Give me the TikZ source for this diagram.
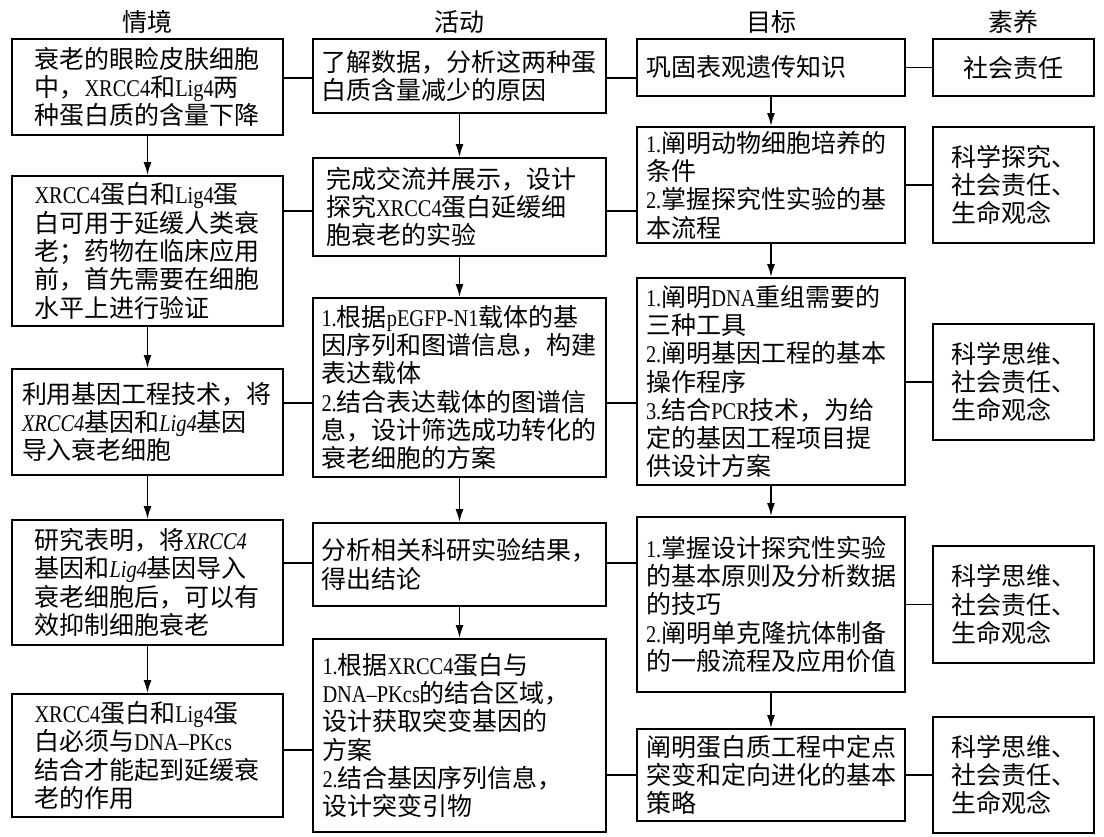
\documentclass[tikz,border=0pt]{standalone}
\usepackage{fontspec}
\setmainfont{Noto Sans CJK SC}
\newfontfamily\latfont[FakeStretch=0.85]{Liberation Serif}
\usetikzlibrary{arrows.meta}
\newcommand{\en}[1]{{\latfont\fontsize{24}{28.3}\selectfont #1}}
\newcommand{\enit}[1]{{\latfont\itshape\fontsize{24}{28.3}\selectfont #1}}

\begin{document}
\begin{tikzpicture}[x=1pt, y=-1pt, line width=1.8pt,
    >={Latex[length=13pt,width=8pt]},
    every node/.style={font=\fontsize{25}{28.3}\selectfont, inner sep=0pt},
    box/.style={draw, line width=1.8pt, align=left},
    qingjing/.style={box, minimum width=271pt, text width=226pt},
    huodong/.style={box, minimum width=293pt, text width=276pt},
    mubiao/.style={box, minimum width=268pt, text width=250pt},
    suyang/.style={box, minimum width=161pt, text width=125pt}]
    \useasboundingbox (0,0) rectangle (1104,837);

    % column heads
    \node (hq) at (147.5,22) {情境};
    \node (hh) at (459.5,22) {活动};
    \node (hm) at (771,22) {目标};
    \node (hs) at (1013.5,22) {素养};

    % situations
    \node[qingjing, minimum height=96pt] (q1) at (147.5,87) {衰老的眼睑皮肤细胞\\中，\en{XRCC4}和\en{Lig4}两\\种蛋白质的含量下降};
    \node[qingjing, minimum height=150pt] (q2) at (147.5,251) {\en{XRCC4}蛋白和\en{Lig4}蛋\\白可用于延缓人类衰\\老；药物在临床应用\\前，首先需要在细胞\\水平上进行验证};
    \node[qingjing, minimum height=106pt, text width=251pt] (q3) at (147.5,422) {利用基因工程技术，将\\\enit{XRCC4}基因和\enit{Lig4}基因\\导入衰老细胞};
    \node[qingjing, minimum height=125pt] (q4) at (147.5,582.5) {研究表明，将\enit{XRCC4}\\基因和\enit{Lig4}基因导入\\衰老细胞后，可以有\\效抑制细胞衰老};
    \node[qingjing, minimum height=123pt] (q5) at (147.5,755.5) {\en{XRCC4}蛋白和\en{Lig4}蛋\\白必须与\en{DNA–PKcs}\\结合才能起到延缓衰\\老的作用};

    % activities
    \node[huodong, minimum height=74pt] (a1) at (459.5,76) {了解数据，分析这两种蛋\\白质含量减少的原因};
    \node[huodong, minimum height=98pt, text width=267pt] (a2) at (459.5,207) {完成交流并展示，设计\\探究\en{XRCC4}蛋白延缓细\\胞衰老的实验};
    \node[huodong, minimum height=179pt] (a3) at (459.5,387.5) {\en{1.}根据\en{pEGFP-N1}载体的基\\因序列和图谱信息，构建\\表达载体\\\en{2.}结合表达载体的图谱信\\息，设计筛选成功转化的\\衰老细胞的方案};
    \node[huodong, minimum height=83pt] (a4) at (459.5,564.5) {分析相关科研实验结果，\\得出结论};
    \node[huodong, minimum height=193pt, text width=274pt] (a5) at (459.5,735.5) {\en{1.}根据\en{XRCC4}蛋白与\\\en{DNA–PKcs}的结合区域，\\设计获取突变基因的\\方案\\\en{2.}结合基因序列信息，\\设计突变引物};

    % goals
    \node[mubiao, minimum height=57pt] (m1) at (771,67.5) {巩固表观遗传知识};
    \node[mubiao, minimum height=116pt] (m2) at (771,185) {\en{1.}阐明动物细胞培养的\\条件\\\en{2.}掌握探究性实验的基\\本流程};
    \node[mubiao, minimum height=207pt] (m3) at (771,381.5) {\en{1.}阐明\en{DNA}重组需要的\\三种工具\\\en{2.}阐明基因工程的基本\\操作程序\\\en{3.}结合\en{PCR}技术，为给\\定的基因工程项目提\\供设计方案};
    \node[mubiao, minimum height=175pt] (m4) at (771,604.5) {\en{1.}掌握设计探究性实验\\的基本原则及分析数据\\的技巧\\\en{2.}阐明单克隆抗体制备\\的一般流程及应用价值};
    \node[mubiao, minimum height=92pt] (m5) at (771,775) {阐明蛋白质工程中定点\\突变和定向进化的基本\\策略};

    % literacy
    \node[suyang, minimum height=57pt, align=center] (s1) at (1013.5,67.5) {社会责任};
    \node[suyang, minimum height=116pt] (s2) at (1013.5,185) {科学探究、\\社会责任、\\生命观念};
    \node[suyang, minimum height=116pt] (s3) at (1013.5,382) {科学思维、\\社会责任、\\生命观念};
    \node[suyang, minimum height=117pt] (s4) at (1013.5,604.5) {科学思维、\\社会责任、\\生命观念};
    \node[suyang, minimum height=116pt] (s5) at (1013.5,775) {科学思维、\\社会责任、\\生命观念};

    % flow down each column
    \draw[->] (q1) to (q2);
    \draw[->] (q2) to (q3);
    \draw[->] (q3) to (q4);
    \draw[->] (q4) to (q5);
    \draw[->] (a1) to (a2);
    \draw[->] (a2) to (a3);
    \draw[->] (a3) to (a4);
    \draw[->] (a4) to (a5);
    \draw[->] (m1) to (m2);
    \draw[->] (m2) to (m3);
    \draw[->] (m3) to (m4);
    \draw[->] (m4) to (m5);

    % links across rows
    \draw (q1.east |- 0,78) to (a1.west |- 0,78);
    \draw (a1.east |- 0,78) to (m1.west |- 0,78);
    \draw (m1.east) to (s1.west);
    \draw (q2.east |- 0,211) to (a2.west |- 0,211);
    \draw (a2.east |- 0,211) to (m2.west |- 0,211);
    \draw (m2.east) to (s2.west);
    \draw (q3.east |- 0,403) to (a3.west |- 0,403);
    \draw (a3.east |- 0,403) to (m3.west |- 0,403);
    \draw (m3.east |- s3.west) to (s3.west);
    \draw (q4.east |- 0,563) to (a4.west |- 0,563);
    \draw (a4.east |- 0,563) to (m4.west |- 0,563);
    \draw (m4.east) to (s4.west);
    \draw (q5.east |- 0,750) to (a5.west |- 0,750);
    \draw (a5.east |- m5.west) to (m5.west);
    \draw (m5.east) to (s5.west);
\end{tikzpicture}
\end{document}
